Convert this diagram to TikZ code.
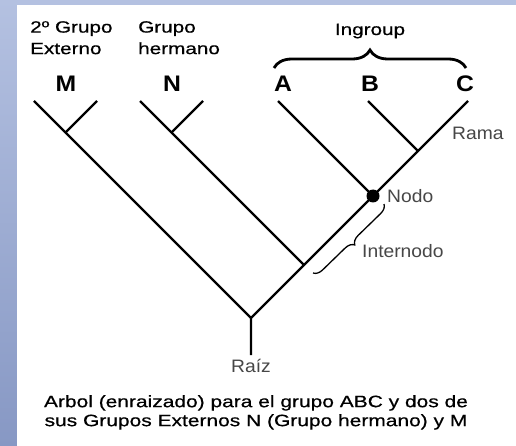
\documentclass[tikz,border=0pt]{standalone}
\usepackage{fontspec}
\setmainfont{Liberation Sans}
\newfontfamily\headfont[FakeStretch=1.27, FakeBold=0.6]{Liberation Sans}
\newfontfamily\taxfont[FakeStretch=1.1]{Liberation Sans}
\newfontfamily\notefont[FakeStretch=1.07]{Liberation Sans}
\usetikzlibrary{decorations.pathreplacing,positioning}

\definecolor{frametop}{HTML}{B4C1E1}
\definecolor{framebot}{HTML}{8798C4}

\begin{document}
\begin{tikzpicture}[
  x=1pt, y=-1pt,
  branch/.style={line width=2.2pt},
  taxon/.style={inner sep=0pt, font=\taxfont\bfseries\fontsize{22.5}{24}\selectfont},
  head/.style={inner sep=0pt, align=left, font=\headfont\fontsize{16.3}{21.5}\selectfont},
  note/.style={inner sep=0pt, text=black!72, font=\notefont\fontsize{18}{20}\selectfont},
  caption/.style={inner sep=0pt, align=center, font=\headfont\fontsize{16.5}{19}\selectfont},
  bigbrace/.style={decorate, decoration={brace, amplitude=18pt}, line width=2.8pt},
  smallbrace/.style={decorate, decoration={brace, amplitude=9pt}, line width=1.3pt},
]
\useasboundingbox (0,0) rectangle (516,446);
% Frame
\fill[top color=frametop, bottom color=framebot] (0,0) rectangle (516,446);
\fill[white] (17,5) rectangle (516,446);
% Tree points
\coordinate (base) at (251,355);
\coordinate (root) at (251,318);
\coordinate (tipM) at (34,101);
\coordinate (tipm) at (97,101);
\coordinate (jM) at (65.5,132.5);
\coordinate (jN) at (304,265);
\coordinate (tipN) at (140,101);
\coordinate (tipn) at (203,101);
\coordinate (jn) at (171.5,132.5);
\coordinate (nodo) at (373,196);
\coordinate (tipA) at (278,101);
\coordinate (jB) at (418,151);
\coordinate (tipB) at (368,101);
\coordinate (tipC) at (468,101);
% Branches
\draw[branch] (base) -- (root) -- (tipC);
\draw[branch] (root) -- (tipM);
\draw[branch] (jM) -- (tipm);
\draw[branch] (jN) -- (tipN);
\draw[branch] (jn) -- (tipn);
\draw[branch] (nodo) -- (tipA);
\draw[branch] (jB) -- (tipB);
\fill (nodo) circle (6.5);
% Taxa
\node[taxon, anchor=base] (labM) at (66,92) {M};
\node[taxon, anchor=base] (labN) at (172,92) {N};
\node[taxon, anchor=base] (labA) at (283,92) {A};
\node[taxon, anchor=base] (labB) at (370,92) {B};
\node[taxon, anchor=base] (labC) at (465,92) {C};
% Groups
\node[head, anchor=north west] (outer) at (30,21) {2º Grupo\\Externo};
\node[head, anchor=north west] (sister) at (138,21) {Grupo\\hermano};
\node[head, anchor=base] (ingroup) at (370,35) {Ingroup};
\draw[bigbrace] (274,68) -- (466,68);
% Parts of the tree
\node[note, anchor=base west] (rama) at (452,140) {Rama};
\node[note, anchor=base west] (nodolab) at (387,203) {Nodo};
\node[note, anchor=base west] (internodo) at (362,257) {Internodo};
\draw[smallbrace] ([shift={(11,8)}]nodo) -- ([shift={(9,8)}]jN);
\node[note, below=4pt of base] (raiz) {Raíz};
% Caption
\node[caption, anchor=north] (cap) at (256,395) {Arbol (enraizado) para el grupo ABC y dos de\\sus Grupos Externos N (Grupo hermano) y M};
\end{tikzpicture}
\end{document}
